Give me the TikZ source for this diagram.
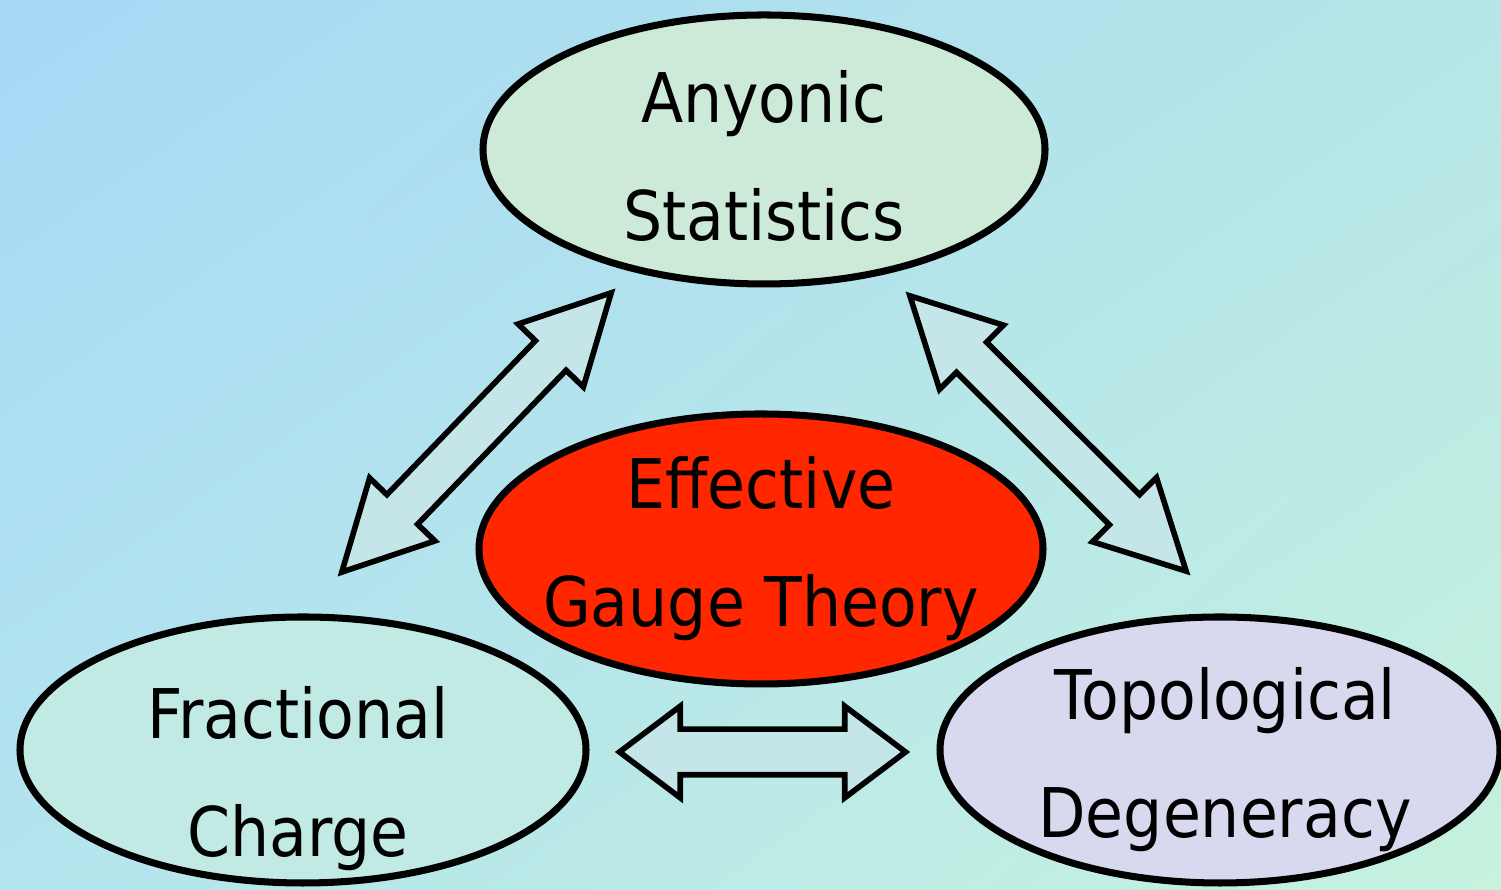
\documentclass[tikz,border=0pt]{standalone}
\usepackage{fontspec}
\setmainfont{DejaVu Sans}[FakeStretch=0.9]
\usepackage{tikz}
\usetikzlibrary{
  positioning,
  shadings,
  shapes.geometric,
  shapes.arrows
}
\definecolor{bgblue}{RGB}{166,216,246}
\definecolor{bgcyan}{RGB}{182,230,232}
\definecolor{bgaqua}{RGB}{180,228,238}
\definecolor{bgmint}{RGB}{198,242,222}
\definecolor{anyongreen}{RGB}{205,233,215}
\definecolor{chargeteal}{RGB}{192,234,227}
\definecolor{topolilac}{RGB}{216,216,238}
\definecolor{gaugered}{RGB}{255,38,0}
\definecolor{linkfill}{RGB}{196,230,232}
\tikzset{
  topicNode/.style={
    ellipse,
    draw=black,
    line width=2pt,
    inner sep=0pt
  },
  topicText/.style={
    align=center,
    inner sep=0pt,
    font=\fontsize{19.5}{33.6}\selectfont
  },
  linkArrow/.style={
    double arrow,
    draw=black,
    fill=linkfill,
    line width=1.6pt,
    inner sep=0.185cm,
    double arrow head extend=0.24cm,
    double arrow tip angle=55,
    sloped
  }
}

\begin{document}
\begin{tikzpicture}
  \useasboundingbox (0,0) rectangle (15.01,8.90);
  \shade[upper left=bgblue, upper right=bgcyan,
    lower left=bgaqua, lower right=bgmint]
    (0,0) rectangle (15.01,8.90);

  \node[topicNode, fill=anyongreen, minimum width=5.62cm,
    minimum height=2.69cm] (anyonic) at (7.64,7.405) {};
  \node[topicNode, fill=gaugered, minimum width=5.64cm,
    minimum height=2.70cm] (effective) at (7.61,3.41) {};
  \node[topicNode, fill=chargeteal, minimum width=5.66cm,
    minimum height=2.66cm] (fractional) at (3.03,1.40) {};
  \node[topicNode, fill=topolilac, minimum width=5.60cm,
    minimum height=2.66cm] (topological) at (12.20,1.40) {};

  \node[topicText] (anyonicText)
    at ([yshift=-0.065cm]anyonic.center) {Anyonic\\Statistics};
  \node[topicText] (effectiveText)
    at (effective.center) {Effective\\Gauge Theory};
  \node[topicText] (fractionalText)
    at ([xshift=-0.05cm,yshift=-0.285cm]fractional.center) {Fractional\\Charge};
  \node[topicText] (topologicalText)
    at ([xshift=0.05cm,yshift=-0.10cm]topological.center) {Topological\\Degeneracy};

  % arrow ends
  \coordinate (anyonLeftEnd) at (6.13,5.99);
  \coordinate (chargeTopEnd) at (3.40,3.16);
  \coordinate (anyonRightEnd) at (9.08,5.96);
  \coordinate (topoTopEnd) at (11.88,3.17);
  \coordinate (chargeSideEnd) at (6.17,1.38);
  \coordinate (topoSideEnd) at (9.08,1.38);

  \path (chargeTopEnd) -- node[linkArrow, minimum height=3.88cm]
    (linkLeft) {} (anyonLeftEnd);
  \path (anyonRightEnd) -- node[linkArrow, minimum height=3.90cm]
    (linkRight) {} (topoTopEnd);
  \path (chargeSideEnd) -- node[linkArrow, minimum height=2.86cm,
    inner sep=0.2cm, double arrow head extend=0.23cm,
    double arrow tip angle=74] (linkBottom) {} (topoSideEnd);
\end{tikzpicture}
\end{document}
